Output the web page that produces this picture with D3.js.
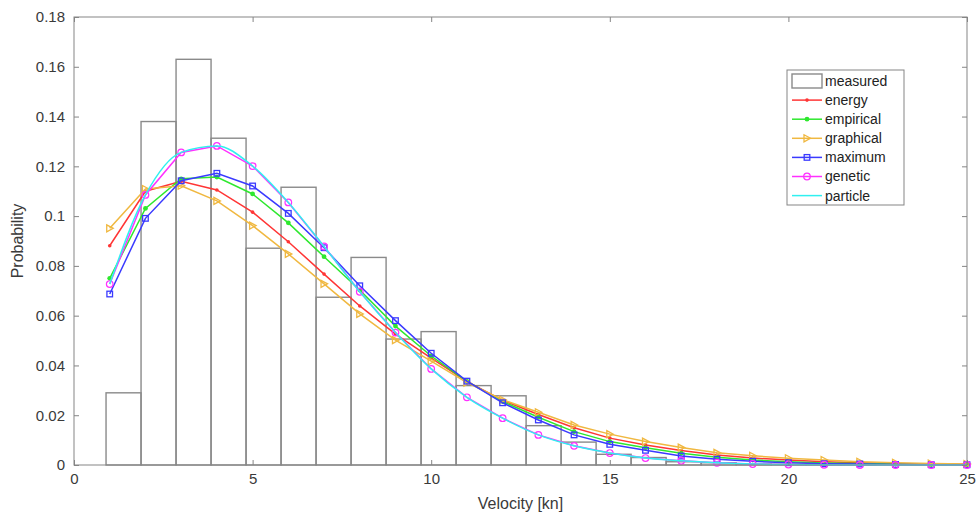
<!DOCTYPE html>
<html>
<head>
<meta charset="utf-8">
<script src="https://cdn.jsdelivr.net/npm/d3@7"></script>
<style>
  body { margin: 0; background: #fff; }
  svg { font-family: Arial, "Liberation Sans", Helvetica, sans-serif; }
</style>
</head>
<body>
<div id="chart"></div>
<script>
// velocity values for the fitted curves
const velocity = d3.range(1, 26);

// histogram of measured data
const binStart = 0.897;
const binWidth = 0.98;
const measured = [0.029, 0.138, 0.163, 0.1313, 0.0871, 0.1116, 0.0674, 0.0834, 0.0506, 0.0536,
  0.0319, 0.0278, 0.0158, 0.0092, 0.0043, 0.0030, 0.0013, 0.0009, 0.0004, 0.0003,
  0.0001, 0.0001, 0.0000, 0.0001];

const energy = [0.0881, 0.1100, 0.1140, 0.1105, 0.1016, 0.0897, 0.0767, 0.0639, 0.0526, 0.0429,
  0.0336, 0.0260, 0.0203, 0.0150, 0.0108, 0.0080, 0.0058, 0.0040, 0.0028, 0.0020,
  0.0013, 0.0009, 0.0006, 0.0004, 0.0003];
const empirical = [0.0750, 0.1031, 0.1150, 0.1157, 0.1089, 0.0973, 0.0837, 0.0703, 0.0558, 0.0438,
  0.0336, 0.0255, 0.0192, 0.0134, 0.0094, 0.0069, 0.0047, 0.0031, 0.0020, 0.0013,
  0.0008, 0.0006, 0.0004, 0.0002, 0.0001];
const graphical = [0.0951, 0.1109, 0.1122, 0.1061, 0.0962, 0.0848, 0.0728, 0.0607, 0.0502, 0.0417,
  0.0331, 0.0262, 0.0212, 0.0161, 0.0124, 0.0094, 0.0070, 0.0049, 0.0037, 0.0027,
  0.0020, 0.0013, 0.0009, 0.0006, 0.0004];
const maximum = [0.0687, 0.0991, 0.1142, 0.1172, 0.1121, 0.1011, 0.0873, 0.0720, 0.0580, 0.0449,
  0.0337, 0.0250, 0.0181, 0.0121, 0.0083, 0.0059, 0.0036, 0.0023, 0.0015, 0.0009,
  0.0005, 0.0004, 0.0002, 0.0001, 0.0001];
const genetic = [0.0727, 0.1085, 0.1256, 0.1282, 0.1201, 0.1055, 0.0878, 0.0696, 0.0532, 0.0386,
  0.0272, 0.0188, 0.0121, 0.0077, 0.0048, 0.0028, 0.0017, 0.0009, 0.0004, 0.0002,
  0.0001, 0.0000, 0.0000, 0.0000, 0.0000];
const particle = [0.0727, 0.1085, 0.1256, 0.1282, 0.1201, 0.1055, 0.0878, 0.0696, 0.0532, 0.0386,
  0.0272, 0.0188, 0.0121, 0.0077, 0.0048, 0.0028, 0.0017, 0.0009, 0.0004, 0.0002,
  0.0001, 0.0000, 0.0000, 0.0000, 0.0000];

const xTicks = [0, 5, 10, 15, 20, 25];
const yTicks = [0, 0.02, 0.04, 0.06, 0.08, 0.1, 0.12, 0.14, 0.16, 0.18];

const series = [
  {name: 'energy', values: energy, color: '#ff3535', marker: 'dot'},
  {name: 'empirical', values: empirical, color: '#2ee82e', marker: 'bigdot'},
  {name: 'graphical', values: graphical, color: '#f0b840', marker: 'tri'},
  {name: 'maximum', values: maximum, color: '#3a3aff', marker: 'square'},
  {name: 'genetic', values: genetic, color: '#ff30ff', marker: 'circle'},
  {name: 'particle', values: particle, color: '#30f0f0', marker: 'none'}
];

const W = 976, H = 512;
const margin = {top: 17, right: 9, bottom: 47, left: 74};
const width = W - margin.left - margin.right;
const height = H - margin.top - margin.bottom;
const axisColor = '#858585';
const textColor = '#3a3a3a';

const svg = d3.select('#chart').append('svg')
  .attr('width', W)
  .attr('height', H);

const g = svg.append('g')
  .attr('transform', `translate(${margin.left},${margin.top})`);

const x = d3.scaleLinear().domain([0, 25]).range([0, width]);
const y = d3.scaleLinear().domain([0, 0.18]).range([height, 0]);

// histogram bars
g.append('g')
  .selectAll('rect')
  .data(measured)
  .enter().append('rect')
  .attr('x', (d, i) => x(binStart + i * binWidth))
  .attr('y', d => y(d))
  .attr('width', x(binWidth) - x(0))
  .attr('height', d => y(0) - y(d))
  .attr('fill', 'none')
  .attr('stroke', '#8a8a8a')
  .attr('stroke-width', 1.4);

function drawMarker(sel, type, color) {
  if (type === 'dot') {
    sel.append('circle').attr('r', 1.8).attr('fill', color);
  } else if (type === 'bigdot') {
    sel.append('circle').attr('r', 2.4).attr('fill', color);
  } else if (type === 'tri') {
    sel.append('path').attr('d', 'M-3,-3.5L3.5,0L-3,3.5Z')
      .attr('fill', 'none').attr('stroke', color).attr('stroke-width', 1.3);
  } else if (type === 'square') {
    sel.append('rect').attr('x', -2.8).attr('y', -2.8).attr('width', 5.6).attr('height', 5.6)
      .attr('fill', 'none').attr('stroke', color).attr('stroke-width', 1.3);
  } else if (type === 'circle') {
    sel.append('circle').attr('r', 3.3)
      .attr('fill', 'none').attr('stroke', color).attr('stroke-width', 1.2);
  }
}

// curves
series.forEach(s => {
  const line = d3.line()
    .x((d, i) => x(velocity[i]))
    .y(d => y(d))
    .curve(s.name === 'particle' ? d3.curveMonotoneX : d3.curveLinear);

  g.append('path')
    .datum(s.values)
    .attr('d', line)
    .attr('fill', 'none')
    .attr('stroke', s.color)
    .attr('stroke-width', 1.5);

  if (s.marker !== 'none') {
    const m = g.append('g').selectAll('g')
      .data(s.values)
      .enter().append('g')
      .attr('transform', (d, i) => `translate(${x(velocity[i])},${y(d)})`);
    drawMarker(m, s.marker, s.color);
  }
});

// box + axes
const axisStyle = sel => {
  sel.select('.domain').remove();
  sel.selectAll('.tick line').attr('stroke', axisColor);
  sel.selectAll('.tick text').attr('fill', textColor).style('font-size', '15px');
};

g.append('g')
  .attr('transform', `translate(0,${height})`)
  .call(d3.axisBottom(x).tickValues(xTicks).tickSizeInner(-5).tickSizeOuter(0).tickPadding(8))
  .call(axisStyle);

g.append('g')
  .call(d3.axisTop(x).tickValues(xTicks).tickSizeInner(-5).tickSizeOuter(0).tickFormat(''))
  .call(axisStyle);

g.append('g')
  .call(d3.axisLeft(y).tickValues(yTicks).tickSizeInner(-5).tickSizeOuter(0).tickPadding(9)
    .tickFormat(d => d3.format('')(+d.toFixed(2))))
  .call(axisStyle);

g.append('g')
  .attr('transform', `translate(${width},0)`)
  .call(d3.axisRight(y).tickValues(yTicks).tickSizeInner(-5).tickSizeOuter(0).tickFormat(''))
  .call(axisStyle);

g.append('rect')
  .attr('width', width)
  .attr('height', height)
  .attr('fill', 'none')
  .attr('stroke', axisColor)
  .attr('stroke-width', 1);

// axis labels
svg.append('text')
  .attr('x', margin.left + width / 2)
  .attr('y', 509)
  .attr('text-anchor', 'middle')
  .attr('fill', textColor)
  .style('font-size', '16px')
  .text('Velocity [kn]');

svg.append('text')
  .attr('transform', `translate(23,${margin.top + height / 2}) rotate(-90)`)
  .attr('text-anchor', 'middle')
  .attr('fill', textColor)
  .style('font-size', '16px')
  .text('Probability');

// legend
const legend = svg.append('g').attr('transform', 'translate(787,70)');
legend.append('rect')
  .attr('width', 117)
  .attr('height', 135)
  .attr('fill', '#fff')
  .attr('stroke', axisColor);

const items = [{name: 'measured', marker: 'hist'}].concat(series);
const rows = legend.selectAll('g.item')
  .data(items)
  .enter().append('g')
  .attr('class', 'item')
  .attr('transform', (d, i) => `translate(0,${11 + i * 19.1})`);

rows.each(function(d) {
  const r = d3.select(this);
  if (d.marker === 'hist') {
    r.append('rect').attr('x', 5).attr('y', -7).attr('width', 30).attr('height', 14)
      .attr('fill', '#fff').attr('stroke', '#8a8a8a').attr('stroke-width', 1.4);
  } else {
    r.append('line').attr('x1', 5).attr('x2', 35)
      .attr('stroke', d.color).attr('stroke-width', 1.5);
    if (d.marker !== 'none') {
      const m = r.append('g').attr('transform', 'translate(20,0)');
      drawMarker(m, d.marker, d.color);
    }
  }
  r.append('text')
    .attr('x', 38)
    .attr('dy', '0.35em')
    .attr('fill', '#222')
    .style('font-size', '14px')
    .text(d.name);
});
</script>
</body>
</html>
